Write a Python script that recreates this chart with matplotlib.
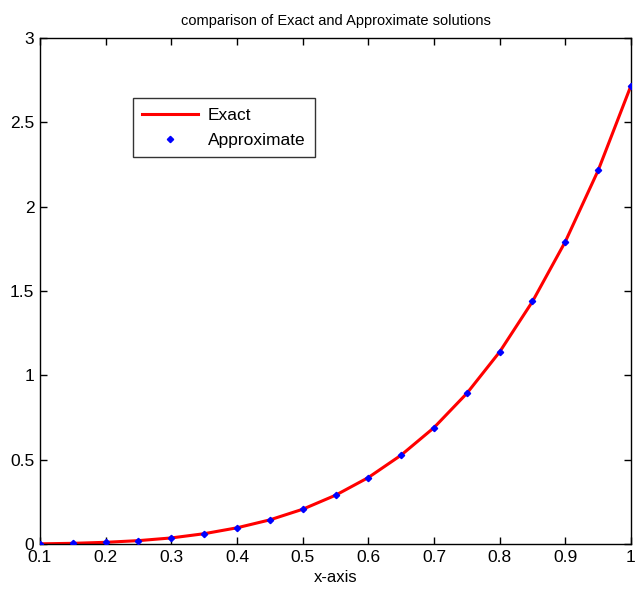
import matplotlib
matplotlib.use('Agg')
import matplotlib.pyplot as plt

plt.rcParams['font.family'] = ['Liberation Sans', 'DejaVu Sans']

# values
x_vals = [0.1, 0.15, 0.2, 0.25, 0.3, 0.35, 0.4, 0.45, 0.5, 0.55,
          0.6, 0.65, 0.7, 0.75, 0.8, 0.85, 0.9, 0.95, 1.0]
exact = [0.001, 0.004, 0.010, 0.020, 0.036, 0.061, 0.096, 0.143, 0.206, 0.289,
         0.394, 0.527, 0.690, 0.893, 1.139, 1.438, 1.793, 2.215, 2.718]
approx = [0.001, 0.004, 0.010, 0.020, 0.036, 0.061, 0.096, 0.143, 0.206, 0.289,
          0.394, 0.527, 0.690, 0.893, 1.139, 1.438, 1.793, 2.215, 2.718]
x_ticks = [0.1, 0.2, 0.3, 0.4, 0.5, 0.6, 0.7, 0.8, 0.9, 1.0]
x_labels = ['0.1', '0.2', '0.3', '0.4', '0.5', '0.6', '0.7', '0.8', '0.9', '1']
y_ticks = [0, 0.5, 1, 1.5, 2, 2.5, 3]
y_labels = ['0', '0.5', '1', '1.5', '2', '2.5', '3']

fig = plt.figure(figsize=(6.41, 5.95), dpi=100)
ax = fig.add_axes([40 / 641, 1 - 544 / 595, 591 / 641, 506 / 595])

ax.plot(x_vals, exact, color='red', lw=2.2, label='Exact', zorder=2)
ax.plot(x_vals, approx, ls='none', marker='D', ms=3.2, color='blue',
        label='Approximate', zorder=3)

ax.set_xlim(0.1, 1.0)
ax.set_ylim(0, 3)
ax.set_xticks(x_ticks)
ax.set_xticklabels(x_labels)
ax.set_yticks(y_ticks)
ax.set_yticklabels(y_labels)
ax.tick_params(direction='in', length=5, width=1, labelsize=12.5,
               top=True, right=True, pad=4)
for s in ax.spines.values():
    s.set_linewidth(1)

ax.set_title('comparison of Exact and Approximate solutions', fontsize=10.5, pad=9)
ax.set_xlabel('x-axis', fontsize=12, labelpad=4)
ax.set_ylabel('y-axis', fontsize=12)
ax.yaxis.set_label_coords(-0.105, 0.46)

leg = ax.legend(loc='upper left', bbox_to_anchor=(0.142, 0.898), fontsize=12.5,
                frameon=True, fancybox=False, edgecolor='black',
                borderpad=0.55, handlelength=3.2, labelspacing=0.55,
                handletextpad=0.6)
leg.get_frame().set_linewidth(1)

fig.savefig('out.png', dpi=100)
